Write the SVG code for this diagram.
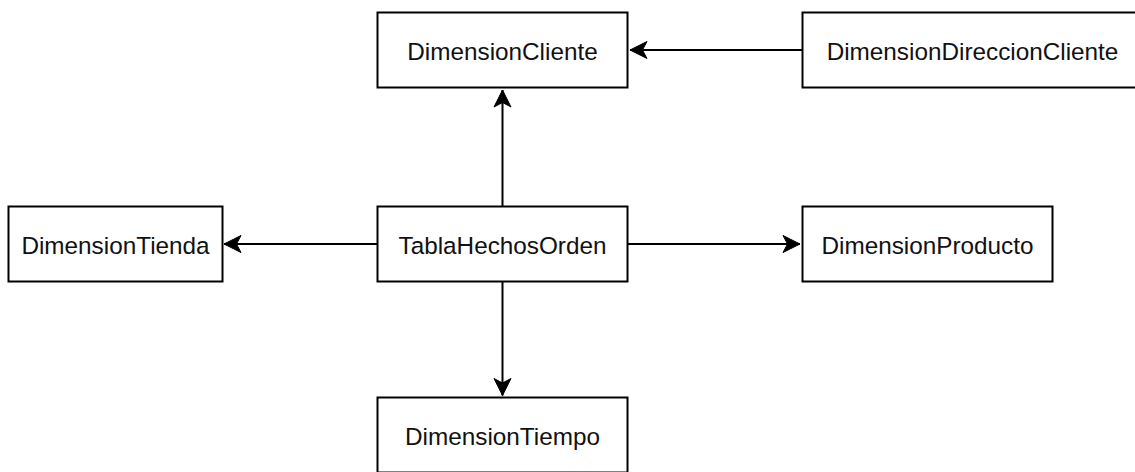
<svg xmlns="http://www.w3.org/2000/svg" width="1135" height="472" viewBox="0 0 1135 472">
  <style>
    .box { fill: #ffffff; stroke: #000000; stroke-width: 2; }
    .label { font-family: "Liberation Sans", Arial, Helvetica, sans-serif; font-size: 24.3px; fill: #111111; text-anchor: middle; }
    .edge { fill: none; stroke: #000000; stroke-width: 2; }
  </style>
  <defs>
    <marker id="arrow" markerUnits="userSpaceOnUse" markerWidth="22" markerHeight="22" viewBox="-19 -11 22 22" refX="0" refY="0" orient="auto">
      <path d="M0,0 L-17,-8.5 L-12.5,0 L-17,8.5 Z" fill="#000000" stroke="#000000" stroke-width="1"/>
    </marker>
  </defs>
  <rect width="1135" height="472" fill="#ffffff"/>

  <g id="connectors">
    <path class="edge" d="M502.5,206 L502.5,90" marker-end="url(#arrow)"/>
    <path class="edge" d="M802,50 L630,50" marker-end="url(#arrow)"/>
    <path class="edge" d="M377,244 L224,244" marker-end="url(#arrow)"/>
    <path class="edge" d="M628,244 L800,244" marker-end="url(#arrow)"/>
    <path class="edge" d="M502.5,282 L502.5,395.5" marker-end="url(#arrow)"/>
  </g>

  <g id="DimensionCliente">
    <rect class="box" x="377.5" y="12.5" width="250" height="75"/>
    <text class="label" x="502.5" y="59.5">DimensionCliente</text>
  </g>
  <g id="DimensionDireccionCliente">
    <rect class="box" x="802.5" y="12.5" width="340" height="75"/>
    <text class="label" x="972.5" y="59.5">DimensionDireccionCliente</text>
  </g>
  <g id="DimensionTienda">
    <rect class="box" x="8.5" y="206.5" width="214" height="75"/>
    <text class="label" x="115.5" y="253.5">DimensionTienda</text>
  </g>
  <g id="TablaHechosOrden">
    <rect class="box" x="377.5" y="206.5" width="250" height="75"/>
    <text class="label" x="502.5" y="253.5">TablaHechosOrden</text>
  </g>
  <g id="DimensionProducto">
    <rect class="box" x="802.5" y="206.5" width="250" height="75"/>
    <text class="label" x="927.5" y="253.5">DimensionProducto</text>
  </g>
  <g id="DimensionTiempo">
    <rect class="box" x="377.5" y="397.5" width="250" height="75"/>
    <text class="label" x="502.5" y="444.5">DimensionTiempo</text>
  </g>
</svg>
